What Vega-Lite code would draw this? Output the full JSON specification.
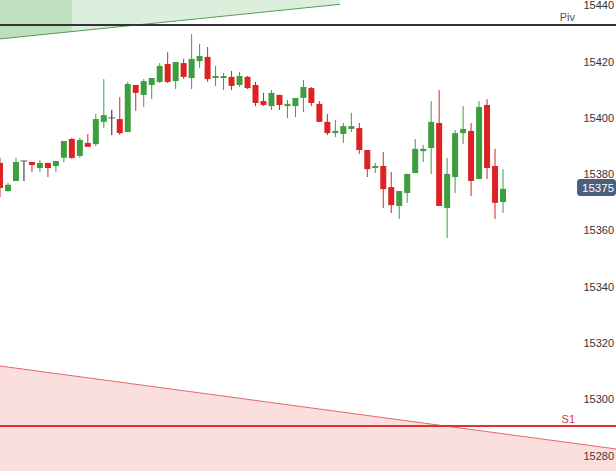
{
  "$schema": "https://vega.github.io/schema/vega-lite/v6.json",
  "width": 616,
  "height": 471,
  "autosize": {"type": "none"},
  "padding": 0,
  "background": "white",
  "config": {
    "view": {"stroke": null},
    "font": "Liberation Sans"
  },
  "datasets": {
    "candles": [
      {"i":0,"o":15384.2,"h":15386.0,"l":15372.1,"c":15375.3,"d":"down"},
      {"i":1,"o":15374.2,"h":15377.1,"l":15373.9,"c":15376.4,"d":"up"},
      {"i":2,"o":15377.8,"h":15386.0,"l":15377.8,"c":15384.5,"d":"up"},
      {"i":3,"o":15384.9,"h":15384.9,"l":15377.8,"c":15384.9,"d":"flat"},
      {"i":4,"o":15384.5,"h":15384.5,"l":15381.0,"c":15383.5,"d":"down"},
      {"i":5,"o":15382.4,"h":15385.2,"l":15381.0,"c":15384.2,"d":"up"},
      {"i":6,"o":15384.2,"h":15384.2,"l":15379.2,"c":15382.4,"d":"down"},
      {"i":7,"o":15383.1,"h":15384.9,"l":15381.0,"c":15384.9,"d":"up"},
      {"i":8,"o":15386.0,"h":15392.0,"l":15384.5,"c":15392.0,"d":"up"},
      {"i":9,"o":15392.7,"h":15393.1,"l":15385.6,"c":15386.0,"d":"down"},
      {"i":10,"o":15386.7,"h":15393.1,"l":15386.0,"c":15392.4,"d":"up"},
      {"i":11,"o":15391.3,"h":15394.5,"l":15389.9,"c":15389.9,"d":"down"},
      {"i":12,"o":15390.9,"h":15401.6,"l":15390.2,"c":15399.8,"d":"up"},
      {"i":13,"o":15398.8,"h":15414.0,"l":15396.6,"c":15401.2,"d":"up"},
      {"i":14,"o":15400.2,"h":15403.0,"l":15394.1,"c":15400.2,"d":"flat"},
      {"i":15,"o":15399.8,"h":15407.6,"l":15394.1,"c":15394.8,"d":"down"},
      {"i":16,"o":15395.2,"h":15413.0,"l":15395.2,"c":15412.3,"d":"up"},
      {"i":17,"o":15411.9,"h":15411.9,"l":15402.7,"c":15409.1,"d":"down"},
      {"i":18,"o":15408.4,"h":15414.0,"l":15404.1,"c":15413.3,"d":"up"},
      {"i":19,"o":15411.9,"h":15414.4,"l":15406.9,"c":15414.4,"d":"up"},
      {"i":20,"o":15413.0,"h":15419.7,"l":15412.6,"c":15418.7,"d":"up"},
      {"i":21,"o":15419.4,"h":15423.6,"l":15412.6,"c":15413.0,"d":"down"},
      {"i":22,"o":15413.3,"h":15420.1,"l":15410.5,"c":15420.1,"d":"up"},
      {"i":23,"o":15419.7,"h":15421.2,"l":15414.0,"c":15414.8,"d":"down"},
      {"i":24,"o":15414.4,"h":15430.0,"l":15410.5,"c":15421.2,"d":"up"},
      {"i":25,"o":15420.4,"h":15426.5,"l":15418.0,"c":15422.2,"d":"up"},
      {"i":26,"o":15421.9,"h":15425.4,"l":15413.0,"c":15414.0,"d":"down"},
      {"i":27,"o":15414.4,"h":15418.7,"l":15411.6,"c":15415.1,"d":"up"},
      {"i":28,"o":15414.4,"h":15416.2,"l":15410.1,"c":15415.1,"d":"up"},
      {"i":29,"o":15414.8,"h":15416.9,"l":15410.1,"c":15411.6,"d":"down"},
      {"i":30,"o":15411.9,"h":15416.5,"l":15411.2,"c":15415.1,"d":"up"},
      {"i":31,"o":15414.8,"h":15415.1,"l":15410.5,"c":15410.8,"d":"down"},
      {"i":32,"o":15411.9,"h":15413.0,"l":15404.4,"c":15405.5,"d":"down"},
      {"i":33,"o":15406.2,"h":15409.1,"l":15404.4,"c":15404.8,"d":"down"},
      {"i":34,"o":15404.4,"h":15410.1,"l":15403.0,"c":15409.1,"d":"up"},
      {"i":35,"o":15408.4,"h":15408.4,"l":15403.0,"c":15404.8,"d":"down"},
      {"i":36,"o":15404.4,"h":15406.6,"l":15400.2,"c":15405.2,"d":"up"},
      {"i":37,"o":15404.4,"h":15407.3,"l":15400.5,"c":15407.3,"d":"up"},
      {"i":38,"o":15407.3,"h":15413.7,"l":15402.3,"c":15411.2,"d":"up"},
      {"i":39,"o":15410.8,"h":15411.2,"l":15404.4,"c":15405.5,"d":"down"},
      {"i":40,"o":15405.2,"h":15406.2,"l":15398.8,"c":15398.8,"d":"down"},
      {"i":41,"o":15398.8,"h":15401.6,"l":15394.1,"c":15394.8,"d":"down"},
      {"i":42,"o":15394.8,"h":15399.5,"l":15393.4,"c":15395.6,"d":"up"},
      {"i":43,"o":15394.5,"h":15398.4,"l":15391.3,"c":15397.3,"d":"up"},
      {"i":44,"o":15396.3,"h":15402.0,"l":15395.2,"c":15397.3,"d":"up"},
      {"i":45,"o":15396.6,"h":15398.4,"l":15387.4,"c":15388.8,"d":"down"},
      {"i":46,"o":15388.8,"h":15388.8,"l":15379.2,"c":15382.0,"d":"down"},
      {"i":47,"o":15382.4,"h":15384.2,"l":15380.6,"c":15383.1,"d":"up"},
      {"i":48,"o":15383.1,"h":15388.1,"l":15368.2,"c":15374.9,"d":"down"},
      {"i":49,"o":15375.6,"h":15381.0,"l":15366.4,"c":15369.2,"d":"down"},
      {"i":50,"o":15368.9,"h":15374.2,"l":15364.3,"c":15374.2,"d":"up"},
      {"i":51,"o":15373.5,"h":15380.3,"l":15370.0,"c":15380.3,"d":"up"},
      {"i":52,"o":15380.6,"h":15392.7,"l":15380.6,"c":15389.2,"d":"up"},
      {"i":53,"o":15388.4,"h":15390.6,"l":15384.5,"c":15389.2,"d":"up"},
      {"i":54,"o":15389.5,"h":15406.2,"l":15380.3,"c":15398.8,"d":"up"},
      {"i":55,"o":15398.4,"h":15410.1,"l":15368.9,"c":15368.9,"d":"down"},
      {"i":56,"o":15368.2,"h":15386.0,"l":15357.5,"c":15380.3,"d":"up"},
      {"i":57,"o":15379.2,"h":15395.9,"l":15373.5,"c":15394.8,"d":"up"},
      {"i":58,"o":15394.8,"h":15404.4,"l":15390.9,"c":15396.3,"d":"up"},
      {"i":59,"o":15395.6,"h":15398.4,"l":15372.4,"c":15377.8,"d":"down"},
      {"i":60,"o":15378.5,"h":15406.2,"l":15378.5,"c":15404.1,"d":"up"},
      {"i":61,"o":15404.8,"h":15406.9,"l":15378.5,"c":15382.4,"d":"down"},
      {"i":62,"o":15383.1,"h":15389.2,"l":15364.3,"c":15370.0,"d":"down"},
      {"i":63,"o":15370.3,"h":15382.0,"l":15366.4,"c":15375.0,"d":"up"}
    ],
    "greenLight": [
      {"x": 0, "y": 15428.3, "top": 15443},
      {"x": 42.58, "y": 15440.6, "top": 15443}
    ],
    "greenDark": [
      {"x": 0, "y": 15428.3, "top": 15443},
      {"x": 9.02, "y": 15430.9, "top": 15443}
    ],
    "redZone": [
      {"x": 0, "y": 15312.0, "bottom": 15274},
      {"x": 77.15, "y": 15282.5, "bottom": 15274}
    ],
    "levels": [
      {"name": "Piv", "v": 15433.2, "lx": 72.02},
      {"name": "S1", "v": 15290.7, "lx": 72.02}
    ],
    "price": [
      {"label": "15375", "v": 15375, "top": 15378.5, "bot": 15372.4, "x0": 72.27, "x1": 77.15, "tx": 72.9}
    ]
  },
  "layer": [
    {
      "data": {"name": "greenLight"},
      "mark": {"type": "area", "color": "#3ca03c", "opacity": 0.18, "clip": true},
      "encoding": {
        "x": {"field": "x", "type": "quantitative", "scale": {"domain": [0, 77.15], "nice": false, "zero": false, "padding": 0}, "axis": null},
        "y": {"field": "y", "type": "quantitative", "scale": {"domain": [15274.67, 15442.13], "nice": false, "zero": false, "padding": 0},
          "axis": {"orient": "right", "offset": -33, "title": null, "domain": false, "ticks": false, "grid": false,
            "labelAlign": "left", "labelPadding": 0, "labelFontSize": 11, "labelColor": "#333333", "labelFont": "Liberation Sans",
            "values": [15280, 15300, 15320, 15340, 15360, 15380, 15400, 15420, 15440], "format": "d", "zindex": 0}},
        "y2": {"field": "top"}
      }
    },
    {
      "data": {"name": "greenDark"},
      "mark": {"type": "area", "color": "#3ca03c", "opacity": 0.18, "clip": true},
      "encoding": {
        "x": {"field": "x", "type": "quantitative"},
        "y": {"field": "y", "type": "quantitative"},
        "y2": {"field": "top"}
      }
    },
    {
      "data": {"name": "greenLight"},
      "mark": {"type": "line", "color": "#4f9f4f", "strokeWidth": 1, "clip": true},
      "encoding": {
        "x": {"field": "x", "type": "quantitative"},
        "y": {"field": "y", "type": "quantitative"}
      }
    },
    {
      "data": {"name": "redZone"},
      "mark": {"type": "area", "color": "#e84040", "opacity": 0.17, "clip": true},
      "encoding": {
        "x": {"field": "x", "type": "quantitative"},
        "y": {"field": "y", "type": "quantitative"},
        "y2": {"field": "bottom"}
      }
    },
    {
      "data": {"name": "redZone"},
      "mark": {"type": "line", "color": "#e06a6a", "strokeWidth": 1, "clip": true},
      "encoding": {
        "x": {"field": "x", "type": "quantitative"},
        "y": {"field": "y", "type": "quantitative"}
      }
    },
    {
      "data": {"name": "levels"},
      "transform": [{"filter": "datum.name == 'Piv'"}],
      "mark": {"type": "rule", "color": "#333333", "strokeWidth": 2},
      "encoding": {"y": {"field": "v", "type": "quantitative"}}
    },
    {
      "data": {"name": "levels"},
      "transform": [{"filter": "datum.name == 'S1'"}],
      "mark": {"type": "rule", "color": "#dd3333", "strokeWidth": 2},
      "encoding": {"y": {"field": "v", "type": "quantitative"}}
    },
    {
      "data": {"name": "levels"},
      "transform": [{"filter": "datum.name == 'Piv'"}],
      "mark": {"type": "text", "color": "#555555", "align": "right", "baseline": "alphabetic", "dy": -4, "fontSize": 11},
      "encoding": {
        "x": {"field": "lx", "type": "quantitative"},
        "y": {"field": "v", "type": "quantitative"},
        "text": {"field": "name"}
      }
    },
    {
      "data": {"name": "levels"},
      "transform": [{"filter": "datum.name == 'S1'"}],
      "mark": {"type": "text", "color": "#dd3333", "align": "right", "baseline": "alphabetic", "dy": -3, "fontSize": 11},
      "encoding": {
        "x": {"field": "lx", "type": "quantitative"},
        "y": {"field": "v", "type": "quantitative"},
        "text": {"field": "name"}
      }
    },
    {
      "data": {"name": "candles"},
      "mark": {"type": "rule", "strokeWidth": 1, "clip": true},
      "encoding": {
        "x": {"field": "i", "type": "quantitative"},
        "y": {"field": "l", "type": "quantitative"},
        "y2": {"field": "h"},
        "color": {"field": "d", "type": "nominal", "legend": null,
          "scale": {"domain": ["up", "down", "flat"], "range": ["#3d9e3d", "#dc2222", "#222222"]}}
      }
    },
    {
      "data": {"name": "candles"},
      "mark": {"type": "bar", "size": 6, "clip": true},
      "encoding": {
        "x": {"field": "i", "type": "quantitative"},
        "y": {"field": "o", "type": "quantitative"},
        "y2": {"field": "c"},
        "color": {"field": "d", "type": "nominal", "legend": null}
      }
    },
    {
      "data": {"name": "candles"},
      "transform": [{"filter": "datum.d == 'flat'"}],
      "mark": {"type": "tick", "orient": "horizontal", "size": 7, "thickness": 1, "color": "#222222"},
      "encoding": {
        "x": {"field": "i", "type": "quantitative"},
        "y": {"field": "o", "type": "quantitative"}
      }
    },
    {
      "data": {"name": "price"},
      "mark": {"type": "rect", "color": "#4a5e7e", "cornerRadius": 3},
      "encoding": {
        "x": {"field": "x0", "type": "quantitative"},
        "x2": {"field": "x1"},
        "y": {"field": "top", "type": "quantitative"},
        "y2": {"field": "bot"}
      }
    },
    {
      "data": {"name": "price"},
      "mark": {"type": "text", "color": "white", "align": "left", "baseline": "middle", "fontSize": 11.5},
      "encoding": {
        "x": {"field": "tx", "type": "quantitative"},
        "y": {"field": "v", "type": "quantitative"},
        "text": {"field": "label"}
      }
    }
  ]
}
